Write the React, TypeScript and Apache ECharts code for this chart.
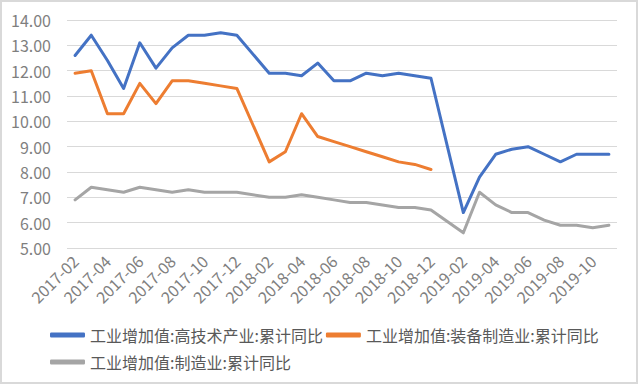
import React, { useEffect, useRef } from "react";
import * as echarts from "echarts";

const categories = [
  "2017-02", "2017-03", "2017-04", "2017-05", "2017-06", "2017-07", "2017-08", "2017-09", "2017-10", "2017-11", "2017-12",
  "2018-01", "2018-02", "2018-03", "2018-04", "2018-05", "2018-06", "2018-07", "2018-08", "2018-09", "2018-10", "2018-11", "2018-12",
  "2019-01", "2019-02", "2019-03", "2019-04", "2019-05", "2019-06", "2019-07", "2019-08", "2019-09", "2019-10", "2019-11",
];

const seriesNames = [
  "工业增加值:高技术产业:累计同比",
  "工业增加值:装备制造业:累计同比",
  "工业增加值:制造业:累计同比",
];

const highTech = [
  12.6, 13.4, 12.4, 11.3, 13.1, 12.1, 12.9, 13.4, 13.4, 13.5, 13.4,
  null, 11.9, 11.9, 11.8, 12.3, 11.6, 11.6, 11.9, 11.8, 11.9, 11.8, 11.7,
  null, 6.4, 7.8, 8.7, 8.9, 9.0, 8.7, 8.4, 8.7, 8.7, 8.7,
];

const equipment = [
  11.9, 12.0, 10.3, 10.3, 11.5, 10.7, 11.6, 11.6, 11.5, 11.4, 11.3,
  null, 8.4, 8.8, 10.3, 9.4, 9.2, 9.0, 8.8, 8.6, 8.4, 8.3, 8.1,
  null, null, null, null, null, null, null, null, null, null, null,
];

const manufacturing = [
  6.9, 7.4, 7.3, 7.2, 7.4, 7.3, 7.2, 7.3, 7.2, 7.2, 7.2,
  null, 7.0, 7.0, 7.1, 7.0, 6.9, 6.8, 6.8, 6.7, 6.6, 6.6, 6.5,
  null, 5.6, 7.2, 6.7, 6.4, 6.4, 6.1, 5.9, 5.9, 5.8, 5.9,
];

const colors = ["#4472C4", "#ED7D31", "#A5A5A5"];
const FONT = "'Noto Sans CJK SC', 'Noto Sans', sans-serif";

export default function App() {
  const ref = useRef<HTMLDivElement>(null);
  useEffect(() => {
    if (!ref.current) return;
    const chart = echarts.init(ref.current, undefined, { renderer: "svg" });
    const values = [highTech, equipment, manufacturing];
    const legendCommon = {
      orient: "horizontal",
      itemWidth: 35,
      itemHeight: 5,
      itemGap: 3,
      icon: "roundRect",
      padding: 0,
      textStyle: { color: "#595959", fontSize: 16, fontFamily: FONT },
    };
    chart.setOption({
      animation: false,
      backgroundColor: "#ffffff",
      color: colors,
      textStyle: { fontFamily: FONT },
      graphic: [
        {
          type: "rect",
          shape: { x: 1, y: 1, width: 636, height: 382 },
          style: { fill: "none", stroke: "#d9d9d9", lineWidth: 2 },
          silent: true,
        },
      ],
      grid: { left: 67, right: 23, top: 20, bottom: 137 },
      legend: [
        { ...legendCommon, data: [seriesNames[0], seriesNames[1]], left: 50, top: 327 },
        { ...legendCommon, data: [seriesNames[2]], left: 50, top: 354 },
      ],
      xAxis: {
        type: "category",
        data: categories,
        boundaryGap: true,
        axisLine: { show: false },
        axisTick: { show: false },
        axisLabel: {
          interval: 1,
          rotate: 45,
          margin: 10,
          color: "#7f7f7f",
          fontSize: 16,
          fontFamily: FONT,
        },
      },
      yAxis: {
        type: "value",
        min: 5,
        max: 14,
        interval: 1,
        axisLine: { show: false },
        axisTick: { show: false },
        splitLine: { lineStyle: { color: "#d9d9d9", width: 1 } },
        axisLabel: {
          margin: 16,
          color: "#7f7f7f",
          fontSize: 16,
          fontFamily: FONT,
          formatter: (v: number) => v.toFixed(2),
        },
      },
      series: seriesNames.map((name, i) => ({
        name,
        type: "line",
        data: values[i],
        connectNulls: true,
        showSymbol: false,
        symbol: "none",
        lineStyle: { width: 3, color: colors[i], join: "round", cap: "round" },
        itemStyle: { color: colors[i] },
      })),
    });
    return () => chart.dispose();
  }, []);
  return (
    <div
      ref={ref}
      style={{ position: "fixed", left: 0, top: 0, width: 640, height: 385 }}
    />
  );
}
